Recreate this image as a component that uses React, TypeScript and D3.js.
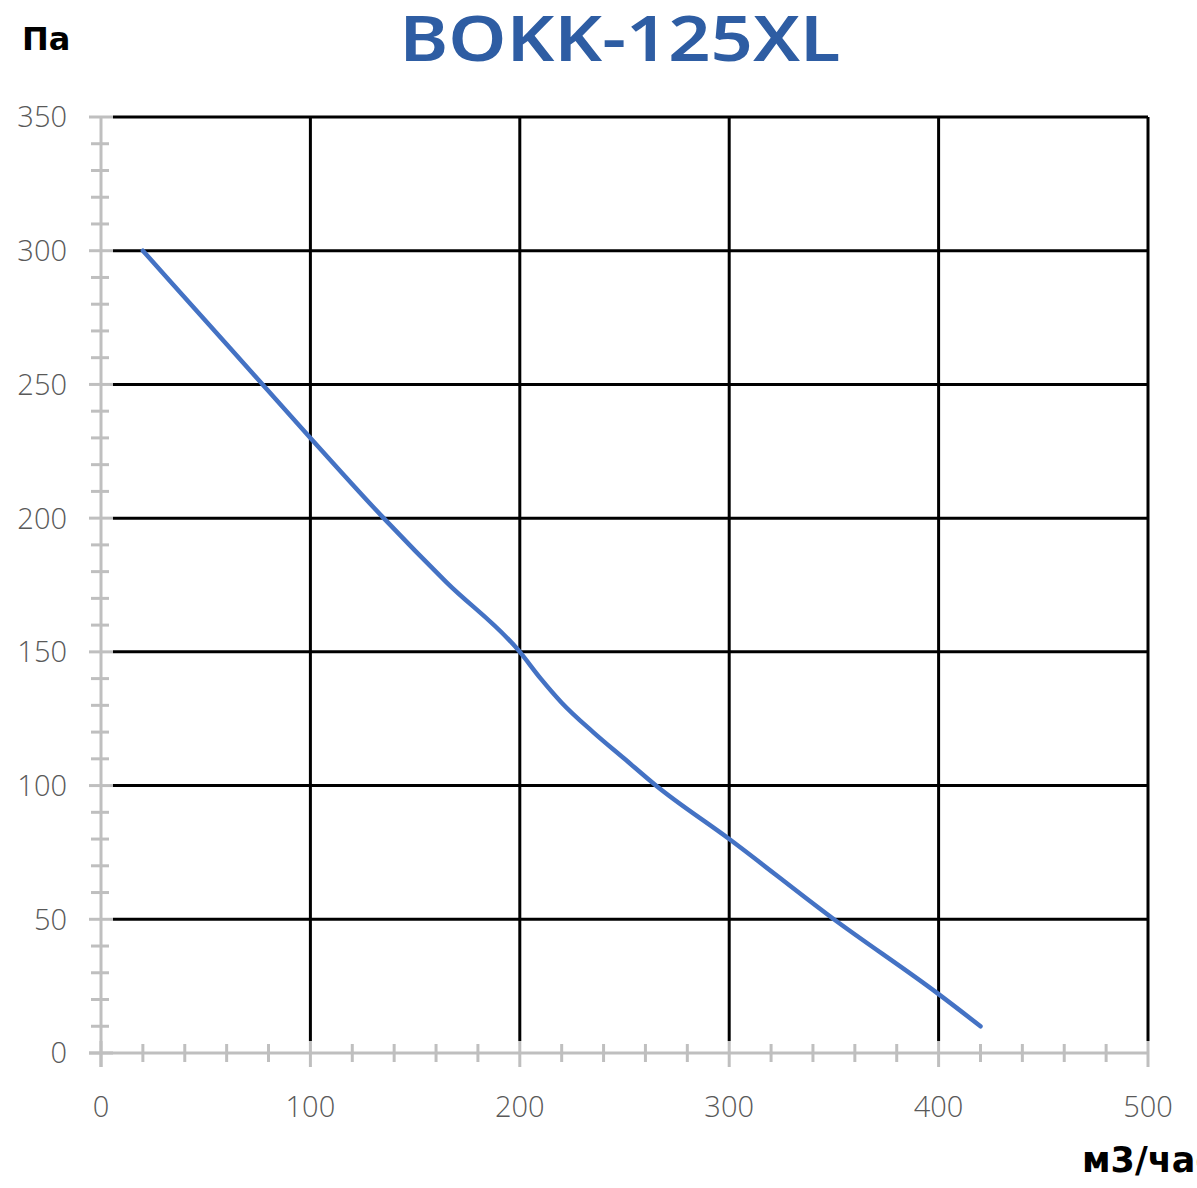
import { curveMonotoneX, line, range, scaleLinear } from 'd3'
import { useEffect } from 'react'

const W = 1197
const H = 1188
const MARGINS = { top: 117, right: 49, bottom: 135, left: 101 }

const title = 'BOKK-125XL'
const yLabel = 'Па'
const xLabel = 'м3/час'

const xTicks = [0, 100, 200, 300, 400, 500]
const yTicks = [0, 50, 100, 150, 200, 250, 300, 350]

// расход, м3/час — давление, Па
const flow = [20, 60, 100, 135, 165, 200, 210, 220, 235, 250, 265, 300, 350, 400, 420]
const pressure = [300, 265, 230, 200, 176, 150, 140, 131, 120, 110, 100, 80, 50, 22, 10]

const GREY = '#bfbfbf'
const LABEL = '#595959'

export default function App() {
  useEffect(() => {
    document.body.style.margin = '0'
  }, [])

  const x = scaleLinear().domain([0, 500]).range([MARGINS.left, W - MARGINS.right])
  const y = scaleLinear().domain([0, 350]).range([H - MARGINS.bottom, MARGINS.top])
  const x0 = x(0)
  const y0 = y(0)

  const path = line<number>()
    .x((d) => x(flow[d]))
    .y((d) => y(pressure[d]))
    .curve(curveMonotoneX)(range(flow.length))

  const yMinor = range(0, 351, 10).filter((v) => v % 50 !== 0)
  const xMinor = range(0, 501, 20).filter((v) => v % 100 !== 0)

  return (
    <svg width={W} height={H} style={{ display: 'block' }}>
      <rect width={W} height={H} fill="#fff" />

      {/* grid */}
      {yTicks.filter((v) => v > 0).map((v) => (
        <line key={`gy${v}`} x1={x0 + 12} x2={x(500)} y1={y(v)} y2={y(v)} stroke="#000" strokeWidth={3} />
      ))}
      {xTicks.filter((v) => v > 0).map((v) => (
        <line key={`gx${v}`} x1={x(v)} x2={x(v)} y1={y(350)} y2={y0 - 12} stroke="#000" strokeWidth={3} />
      ))}

      {/* axes */}
      <line x1={x0} x2={x0} y1={y(350)} y2={y0 + 14} stroke={GREY} strokeWidth={3} />
      <line x1={x0 - 12} x2={x(500)} y1={y0} y2={y0} stroke={GREY} strokeWidth={3} />
      {yMinor.map((v) => (
        <line key={`ym${v}`} x1={x0 - 10} x2={x0 + 8} y1={y(v)} y2={y(v)} stroke={GREY} strokeWidth={3} />
      ))}
      {yTicks.map((v) => (
        <line key={`yM${v}`} x1={x0 - 12} x2={x0 + 12} y1={y(v)} y2={y(v)} stroke={GREY} strokeWidth={3} />
      ))}
      {xMinor.map((v) => (
        <line key={`xm${v}`} x1={x(v)} x2={x(v)} y1={y0 - 9} y2={y0 + 9} stroke={GREY} strokeWidth={3} />
      ))}
      {xTicks.map((v) => (
        <line key={`xM${v}`} x1={x(v)} x2={x(v)} y1={y0 - 12} y2={y0 + 14} stroke={GREY} strokeWidth={3} />
      ))}

      {/* tick labels */}
      {yTicks.map((v) => (
        <text
          key={`yl${v}`}
          x={67}
          y={y(v)}
          dy="0.36em"
          textAnchor="end"
          fontFamily="'Open Sans', sans-serif"
          fontWeight={300}
          fontSize={29}
          fill={LABEL}
        >
          {v}
        </text>
      ))}
      {xTicks.map((v) => (
        <text
          key={`xl${v}`}
          x={x(v)}
          y={1107}
          dy="0.36em"
          textAnchor="middle"
          fontFamily="'Open Sans', sans-serif"
          fontWeight={300}
          fontSize={29}
          fill={LABEL}
        >
          {v}
        </text>
      ))}

      {/* series */}
      <path d={path ?? ''} fill="none" stroke="#4472c4" strokeWidth={4.5} strokeLinecap="round" />

      {/* titles */}
      <text
        x={620}
        y={61}
        textAnchor="middle"
        fontFamily="'Noto Sans', sans-serif"
        fontWeight={600}
        fontSize={64}
        fill="#2e5da3"
        textLength={441}
        lengthAdjust="spacingAndGlyphs"
      >
        {title}
      </text>
      <text x={22} y={50} fontFamily="'DejaVu Sans', sans-serif" fontWeight={700} fontSize={32} fill="#000">
        {yLabel}
      </text>
      <text x={1082} y={1172} fontFamily="'DejaVu Sans', sans-serif" fontWeight={700} fontSize={35} fill="#000">
        {xLabel}
      </text>
    </svg>
  )
}
